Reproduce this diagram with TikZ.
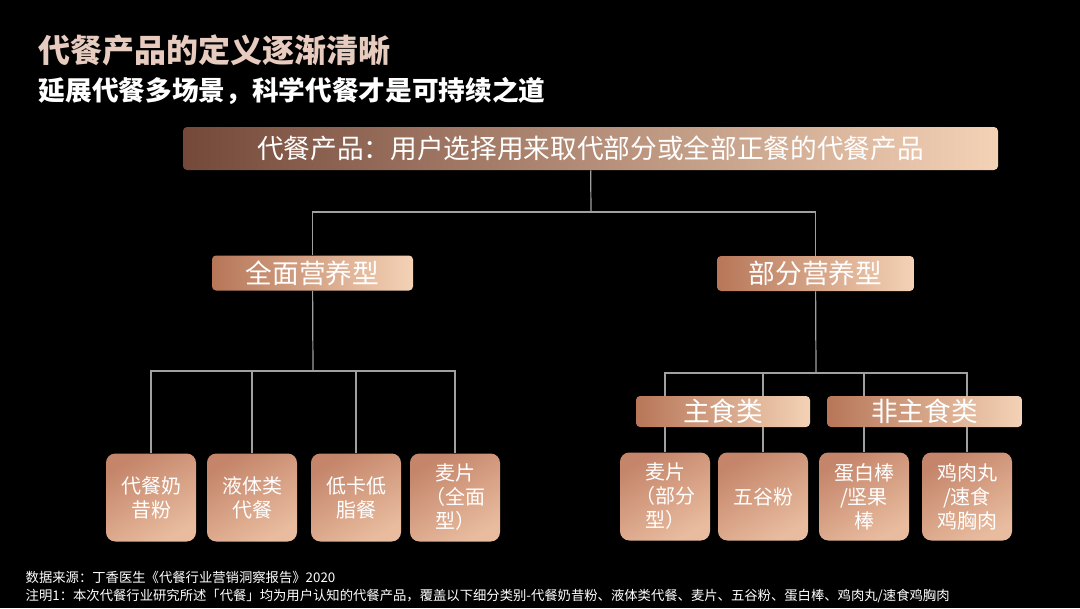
\documentclass[tikz,border=0pt]{standalone}
\usepackage{fontspec}
\setmainfont{Noto Sans CJK SC}
\usetikzlibrary{backgrounds}

\definecolor{cudark}{HTML}{74493A}
\definecolor{culight}{HTML}{F4D2B6}
\definecolor{cuband}{HTML}{B77658}
\definecolor{cumid}{HTML}{C4856A}
\definecolor{cupale}{HTML}{E9BC9F}
\definecolor{titlecol}{HTML}{E6CBBE}
\definecolor{wire}{HTML}{A0A0A0}

\newcommand{\pxu}{0.75pt}

\tikzset{
  bar/.style={rounded corners=3pt, text=white, inner sep=0pt,
    left color=cudark, right color=culight},
  midbar/.style={rounded corners=3pt, text=white, inner sep=0pt,
    left color=cuband, middle color=cuband!85!culight, right color=culight,
    font=\fontsize{20}{24}\selectfont},
  leaf/.style={rounded corners=7pt, text=white, inner sep=0pt,
    minimum width=90*\pxu, minimum height=88*\pxu, align=center,
    shading=axis, top color=cumid, bottom color=cupale, shading angle=30,
    font=\fontsize{15}{18}\selectfont},
}

\begin{document}
\begin{tikzpicture}[x=0.75pt,y=-0.75pt]

      \useasboundingbox (0,0) rectangle (1080,608);

      \node[anchor=west, text=titlecol, font=\fontsize{24}{28}\selectfont\bfseries]
        (title) at (34,50) {代餐产品的定义逐渐清晰};
      \node[anchor=west, text=white, font=\fontsize{20}{24}\selectfont\bfseries]
        (subtitle) at (34,91) {延展代餐多场景，科学代餐才是可持续之道};

      \node[bar, minimum width=815*\pxu, minimum height=43*\pxu, font=\fontsize{20}{24}\selectfont]
        (root) at (590.5,148.5) {代餐产品：用户选择用来取代部分或全部正餐的代餐产品};

      \begin{scope}[every node/.style={midbar, minimum height=35*\pxu}]
        \node[minimum width=201*\pxu] (full) at (312.5,273) {全面营养型};
        \node[minimum width=197*\pxu] (part) at (815.5,273.5) {部分营养型};
      \end{scope}

      \begin{scope}[every node/.style={midbar, minimum height=31*\pxu}]
        \node[minimum width=174*\pxu] (staple) at (723,411.5) {主食类};
        \node[minimum width=195*\pxu] (snack) at (924.5,411.5) {非主食类};
      \end{scope}

      \begin{scope}[every node/.style={leaf}]
        \node (l1) at (151,497.5) {代餐奶\\昔粉};
        \node (l2) at (252,497.5) {液体类\\代餐};
        \node (l3) at (356,497.5) {低卡低\\脂餐};
        \node (l4) at (455,497.5) {麦片\\（全面\\型）};
        \node (r1) at (665,496.5) {麦片\\（部分\\型）};
        \node (r2) at (763,496.5) {五谷粉};
        \node (r3) at (864,496.5) {蛋白棒\\/坚果\\棒};
        \node (r4) at (967,496.5) {鸡肉丸\\/速食\\鸡胸肉};
      \end{scope}

      \coordinate (j1) at (591,212);
      \coordinate (j2) at (313,371);
      \coordinate (j3) at (816,373);

      \begin{scope}[on background layer]
        \fill[black] (0,0) rectangle (1080,608);
      \end{scope}

      \begin{scope}[on background layer, every path/.style={draw=wire, line width=0.9pt}]
        \path (root) -- (j1);
        \path (j1) -| (full);
        \path (j1) -| (part);
        \path (full) -- (j2);
        \path (part) -- (j3);
        \foreach \n in {l1,l2,l3,l4}
          \path (j2) -| (\n);
        \foreach \n in {r1,r2,r3,r4}
          \path (j3) -| (\n);
      \end{scope}

      \begin{scope}[every node/.style={anchor=west, text=white, font=\fontsize{10}{12}\selectfont}]
        \node (src) at (21,577) {数据来源：丁香医生《代餐行业营销洞察报告》2020};
        \node (note) at (21,596) {注明1：本次代餐行业研究所述「代餐」均为用户认知的代餐产品，覆盖以下细分类别-代餐奶昔粉、液体类代餐、麦片、五谷粉、蛋白棒、鸡肉丸/速食鸡胸肉};
      \end{scope}

    \end{tikzpicture}
\end{document}
